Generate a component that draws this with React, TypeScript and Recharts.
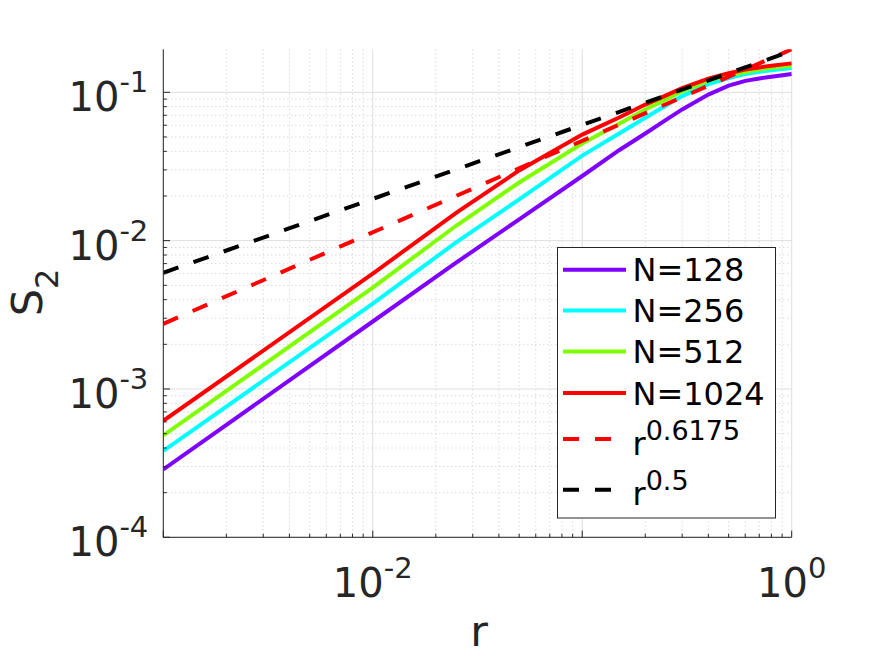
import { LineChart, Line, XAxis, YAxis, CartesianGrid, Legend } from "recharts"

// structure function S2(r), one array per resolution
const rValues = [0.001, 0.01, 0.025, 0.05, 0.1, 0.15, 0.2, 0.25, 0.3, 0.4, 0.5, 0.6, 0.7, 0.8, 1]
const s2N128 = [2.87e-4, 2.85e-3, 7.1e-3, 0.01393, 0.02727, 0.0407, 0.0528, 0.065, 0.0767, 0.0965, 0.1109, 0.1195, 0.124, 0.1275, 0.1329]
const s2N256 = [3.82e-4, 3.764e-3, 9.75e-3, 0.01898, 0.03741, 0.0528, 0.0673, 0.0811, 0.0943, 0.1135, 0.1249, 0.1327, 0.1375, 0.141, 0.1459]
const s2N512 = [4.86e-4, 4.825e-3, 0.0126, 0.02467, 0.04518, 0.0613, 0.0765, 0.0893, 0.1016, 0.1199, 0.1301, 0.1371, 0.1423, 0.1466, 0.1512]
const s2N1024 = [6.1e-4, 5.99e-3, 0.0154, 0.02974, 0.0519, 0.0676, 0.0827, 0.095, 0.1067, 0.1236, 0.1346, 0.1423, 0.1471, 0.1512, 0.1567]

// reference power laws, end points only
const fitR = [0.001, 1]
const fitR06175 = [0.00275, 0.195]
const fitR05 = [0.00607, 0.19]

const xMajorTicks = [0.001, 0.01, 0.1, 1]
const xMinorTicks = [
  0.002, 0.003, 0.004, 0.005, 0.006, 0.007, 0.008, 0.009,
  0.02, 0.03, 0.04, 0.05, 0.06, 0.07, 0.08, 0.09,
  0.2, 0.3, 0.4, 0.5, 0.6, 0.7, 0.8, 0.9,
]
const xLabelTicks = [0.01, 1]
const xLabelExps = ["-2", "0"]

const yMajorTicks = [0.0001, 0.001, 0.01, 0.1]
const yMinorTicks = [
  0.0002, 0.0003, 0.0004, 0.0005, 0.0006, 0.0007, 0.0008, 0.0009,
  0.002, 0.003, 0.004, 0.005, 0.006, 0.007, 0.008, 0.009,
  0.02, 0.03, 0.04, 0.05, 0.06, 0.07, 0.08, 0.09,
]
const yLabelTicks = [0.0001, 0.001, 0.01, 0.1]
const yLabelExps = ["-4", "-3", "-2", "-1"]

const data = rValues.map((r, i) => {
  const f = fitR.indexOf(r)
  return {
    r,
    n128: s2N128[i],
    n256: s2N256[i],
    n512: s2N512[i],
    n1024: s2N1024[i],
    fitA: f >= 0 ? fitR06175[f] : undefined,
    fitB: f >= 0 ? fitR05[f] : undefined,
  }
})

const FONT = "DejaVu Sans"
const AXIS = "#262626"
const LW = 4

const legendItems = [
  { label: "N=128", exp: "", color: "#8000ff", dashed: false },
  { label: "N=256", exp: "", color: "#00ffff", dashed: false },
  { label: "N=512", exp: "", color: "#80ff00", dashed: false },
  { label: "N=1024", exp: "", color: "#ff0000", dashed: false },
  { label: "r", exp: "0.6175", color: "#ff0000", dashed: true },
  { label: "r", exp: "0.5", color: "#000000", dashed: true },
]
const legendRowY = [22.7, 63.4, 104.4, 146, 192, 242.7]

const XTick = ({ x, y, payload }: any) => {
  const v = payload.value
  const major = xMajorTicks.includes(v)
  const li = xLabelTicks.indexOf(v)
  return (
    <g>
      <line x1={x} x2={x} y1={y} y2={y - (major ? 6.7 : 3.5)} stroke={AXIS} strokeWidth={1} />
      {li >= 0 && (
        <text x={x} y={y + 59.4} textAnchor="middle" fill={AXIS} fontFamily={FONT}>
          <tspan fontSize={40}>10</tspan>
          <tspan fontSize={29} dy={-19}>{xLabelExps[li]}</tspan>
        </text>
      )}
    </g>
  )
}

const YTick = ({ x, y, payload }: any) => {
  const v = payload.value
  const major = yMajorTicks.includes(v)
  const li = yLabelTicks.indexOf(v)
  return (
    <g>
      <line x1={x} x2={x + (major ? 6.7 : 3.5)} y1={y} y2={y} stroke={AXIS} strokeWidth={1} />
      {li >= 0 && (
        <text x={x - 15} y={y + 19} textAnchor="end" fill={AXIS} fontFamily={FONT}>
          <tspan fontSize={40}>10</tspan>
          <tspan fontSize={29} dy={-19}>{yLabelExps[li]}</tspan>
        </text>
      )}
    </g>
  )
}

const YLabel = () => (
  <text
    x={42}
    y={292.5}
    transform="rotate(-90 42 292.5)"
    textAnchor="middle"
    fill={AXIS}
    fontFamily={FONT}
  >
    <tspan fontSize={43}>S</tspan>
    <tspan fontSize={32} dy={16}>2</tspan>
  </text>
)

const XLabel = () => (
  <text x={479} y={646} textAnchor="middle" fill={AXIS} fontFamily={FONT} fontSize={43}>
    r
  </text>
)

const LegendBox = () => (
  <svg width={220} height={272} style={{ display: "block" }}>
    <rect x={0.5} y={0.5} width={218} height={270.5} fill="#ffffff" stroke={AXIS} strokeWidth={1} />
    {legendItems.map((item, i) => {
      const cy = legendRowY[i]
      return (
        <g key={i}>
          <line
            x1={6}
            x2={69}
            y1={cy}
            y2={cy}
            stroke={item.color}
            strokeWidth={LW}
            strokeDasharray={item.dashed ? "16 16" : undefined}
          />
          {item.exp ? (
            <text x={75.5} y={cy + 15.7} fill="#000000" fontFamily={FONT} fontSize={32}>
              {item.label}
              <tspan fontSize={27} dy={-15}>{item.exp}</tspan>
            </text>
          ) : (
            <text x={75.5} y={cy + 11.7} fill="#000000" fontFamily={FONT} fontSize={32}>
              {item.label}
            </text>
          )}
        </g>
      )
    })}
  </svg>
)

export default function App() {
  return (
    <div style={{ position: "absolute", left: 0, top: 0, width: 875, height: 656, background: "#ffffff" }}>
      <LineChart
        width={875}
        height={656}
        data={data}
        margin={{ top: 49.3, right: 83.3, bottom: 58.7, left: 13.3 }}
      >
        <CartesianGrid
          verticalValues={xMinorTicks}
          horizontalValues={yMinorTicks}
          stroke="#c9c9c9"
          strokeDasharray="1 3"
        />
        <CartesianGrid verticalValues={xMajorTicks} horizontalValues={yMajorTicks} stroke="#dedede" />
        <XAxis
          dataKey="r"
          type="number"
          scale="log"
          domain={[0.001, 1]}
          allowDataOverflow
          ticks={[...xMajorTicks, ...xMinorTicks]}
          interval={0}
          height={60}
          tickSize={0}
          tickMargin={0}
          tickLine={false}
          axisLine={{ stroke: AXIS, strokeWidth: 1 }}
          tick={(p: any) => <XTick {...p} />}
          label={<XLabel />}
        />
        <YAxis
          type="number"
          scale="log"
          domain={[0.0001, 0.195]}
          allowDataOverflow
          ticks={[...yMajorTicks, ...yMinorTicks]}
          interval={0}
          width={150}
          tickSize={0}
          tickMargin={0}
          tickLine={false}
          axisLine={{ stroke: AXIS, strokeWidth: 1 }}
          tick={(p: any) => <YTick {...p} />}
          label={<YLabel />}
        />
        <Legend
          layout="vertical"
          align="center"
          verticalAlign="middle"
          content={() => <LegendBox />}
          wrapperStyle={{ position: "absolute", left: 557, top: 247, width: 220, height: 272 }}
        />
        <Line dataKey="n128" stroke="#8000ff" strokeWidth={LW} dot={false} activeDot={false} isAnimationActive={false} />
        <Line dataKey="n256" stroke="#00ffff" strokeWidth={LW} dot={false} activeDot={false} isAnimationActive={false} />
        <Line dataKey="n512" stroke="#80ff00" strokeWidth={LW} dot={false} activeDot={false} isAnimationActive={false} />
        <Line dataKey="n1024" stroke="#ff0000" strokeWidth={LW} dot={false} activeDot={false} isAnimationActive={false} />
        <Line
          dataKey="fitA"
          stroke="#ff0000"
          strokeWidth={LW}
          strokeDasharray="16 16"
          connectNulls
          dot={false}
          activeDot={false}
          isAnimationActive={false}
        />
        <Line
          dataKey="fitB"
          stroke="#000000"
          strokeWidth={LW}
          strokeDasharray="16 16"
          connectNulls
          dot={false}
          activeDot={false}
          isAnimationActive={false}
        />
      </LineChart>
    </div>
  )
}
